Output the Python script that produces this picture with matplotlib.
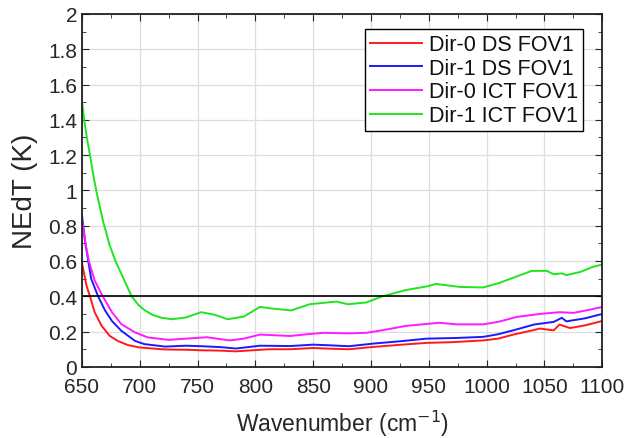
import numpy as np
import matplotlib.pyplot as plt

plt.rcParams['font.family'] = ['Liberation Sans', 'DejaVu Sans']

# wavenumber (cm-1) sample points
wn_red = [650, 654, 657, 661, 667, 674, 681, 690, 700, 719, 727, 740, 754, 770, 783, 800, 812, 830,
          850, 865, 881, 902, 925, 948, 970, 997, 1010, 1023, 1035, 1046, 1058, 1063, 1072, 1085, 1100]
red = [0.59, 0.46, 0.40, 0.31, 0.233, 0.176, 0.147, 0.123, 0.11, 0.10, 0.098, 0.097, 0.094, 0.092, 0.088, 0.095,
       0.10, 0.10, 0.107, 0.103, 0.10, 0.113, 0.125, 0.136, 0.14, 0.15, 0.16, 0.183, 0.20, 0.217, 0.207, 0.24,
       0.22, 0.235, 0.26]

wn_blue = [650, 653, 656, 658, 664, 670, 676, 684, 696, 704, 722, 740, 754, 770, 783, 804, 830, 850, 865,
           881, 902, 925, 948, 974, 997, 1010, 1023, 1041, 1058, 1065, 1069, 1085, 1100]
blue = [0.86, 0.70, 0.58, 0.50, 0.40, 0.32, 0.26, 0.205, 0.147, 0.129, 0.115, 0.12, 0.117, 0.112, 0.104, 0.12,
        0.118, 0.126, 0.122, 0.117, 0.132, 0.145, 0.16, 0.164, 0.17, 0.185, 0.207, 0.24, 0.255, 0.278, 0.258,
        0.275, 0.30]

wn_mag = [650, 653, 656, 661, 668, 676, 684, 696, 707, 725, 740, 758, 778, 790, 804, 830, 845,
          859, 881, 896, 912, 930, 959, 974, 997, 1010, 1026, 1046, 1063, 1075, 1090, 1100]
mag = [0.84, 0.70, 0.60, 0.49, 0.40, 0.31, 0.243, 0.195, 0.167, 0.153, 0.16, 0.168, 0.15, 0.16, 0.183, 0.175,
       0.185, 0.193, 0.19, 0.193, 0.21, 0.232, 0.25, 0.241, 0.241, 0.255, 0.283, 0.30, 0.31, 0.306, 0.325, 0.34]

wn_green = [650, 652, 654.5, 657, 660, 663, 668.5, 674, 679, 686, 693, 699, 704.5, 711, 719, 728, 740, 753,
            765, 776, 790, 804, 815, 831, 847, 870, 880, 896, 910, 930, 949, 956, 977, 997, 1011, 1029,
            1039, 1052, 1058, 1065, 1069, 1081, 1092, 1100]
green = [1.51, 1.40, 1.29, 1.20, 1.08, 0.98, 0.82, 0.69, 0.60, 0.50, 0.40, 0.35, 0.32, 0.295, 0.278, 0.27, 0.28,
         0.31, 0.295, 0.27, 0.285, 0.34, 0.33, 0.32, 0.355, 0.37, 0.355, 0.365, 0.40, 0.435, 0.457, 0.47, 0.453,
         0.45, 0.476, 0.52, 0.544, 0.544, 0.525, 0.53, 0.52, 0.538, 0.567, 0.58]

labels = ['Dir-0 DS FOV1', 'Dir-1 DS FOV1', 'Dir-0 ICT FOV1', 'Dir-1 ICT FOV1']
colors = ['#ff1a1a', '#1a1aff', '#ff1aff', '#1ee61e']
threshold = 0.4
txt = '#262626'

fig = plt.figure(figsize=(6.3, 4.39), dpi=100)
ax = fig.add_axes([0.130, 0.162, 0.826, 0.804])

for x, y, lab, c in zip([wn_red, wn_blue, wn_mag, wn_green], [red, blue, mag, green], labels, colors):
    ax.plot(x, y, color=c, lw=1.4, label=lab)
ax.axhline(threshold, color='k', lw=1.2)

ax.set_xlim(650, 1100)
ax.set_ylim(0, 2)
ax.set_xticks(np.arange(650, 1101, 50))
ax.set_yticks(np.arange(0, 2.01, 0.2))
ax.set_yticklabels(['0', '0.2', '0.4', '0.6', '0.8', '1', '1.2', '1.4', '1.6', '1.8', '2'])
ax.set_xticks(np.arange(650, 1101, 25), minor=True)
ax.set_yticks(np.arange(0, 2.01, 0.1), minor=True)
ax.tick_params(which='both', direction='in', top=True, right=True, labelsize=15,
               labelcolor=txt, color=txt)
ax.tick_params(axis='x', pad=7)
ax.tick_params(which='major', length=5)
ax.tick_params(which='minor', length=3)
ax.grid(True, which='major', color='#dedede', lw=0.9)
for s in ax.spines.values():
    s.set_linewidth(1.3)
    s.set_color('#202020')

ax.set_xlabel('Wavenumber (cm$^{-1}$)', fontsize=16.5, color=txt, labelpad=9)
ax.set_ylabel('NEdT (K)', fontsize=20, color=txt, labelpad=7)

leg = ax.legend(loc='upper right', fontsize=15.5, fancybox=False, framealpha=1,
                edgecolor='k', handlelength=2.4, borderpad=0.25, labelspacing=0.12,
                handletextpad=0.3, borderaxespad=0, bbox_to_anchor=(0.963, 0.9575))
leg.get_frame().set_linewidth(1.0)
for t in leg.get_texts():
    t.set_color('#111111')

fig.savefig('out.png', dpi=100)
